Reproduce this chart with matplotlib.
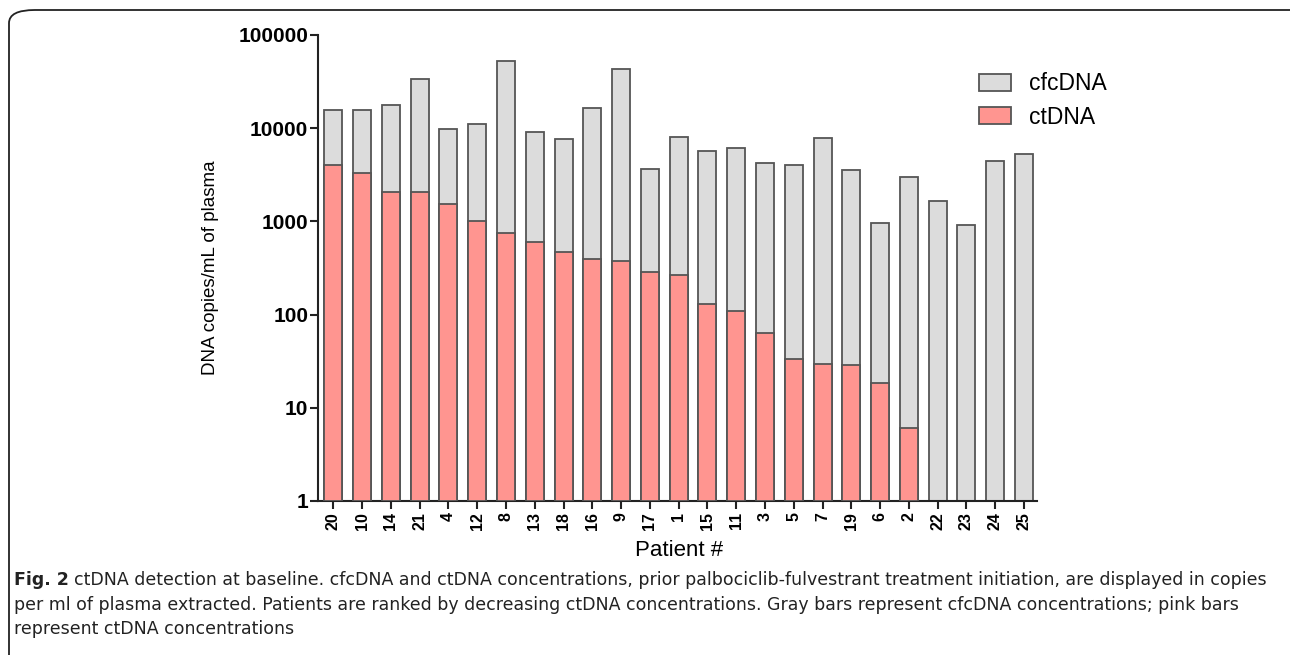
import matplotlib
matplotlib.use('Agg')
import matplotlib.pyplot as plt
import numpy as np
from matplotlib.patches import FancyBboxPatch, Patch

# Data (copies/mL of plasma), patients ranked by decreasing ctDNA
patients = ['20', '10', '14', '21', '4', '12', '8', '13', '18', '16', '9', '17', '1',
            '15', '11', '3', '5', '7', '19', '6', '2', '22', '23', '24', '25']
cfcdna = [15600, 15600, 17800, 33800, 9760, 11100, 53000, 9200, 7620, 16600, 43200, 3630, 8070,
          5710, 6110, 4220, 4010, 7940, 3520, 950, 2960, 1640, 920, 4430, 5340]
ctdna = [3980, 3340, 2060, 2060, 1545, 1000, 750, 600, 469, 397, 375, 286, 268,
         130, 110, 64, 33.5, 29.5, 29, 18.5, 6.1, 0, 0, 0, 0]
y_ticks = [1, 10, 100, 1000, 10000, 100000]

gray = '#dcdcdc'
pink = '#ff9590'
edge = '#555555'

plt.rcParams['font.family'] = ['Liberation Sans', 'DejaVu Sans']

fig = plt.figure(figsize=(12.9, 6.55), dpi=100)
ax = fig.add_axes([318 / 1290, 1 - 501 / 655, (1037 - 318) / 1290, (501 - 35) / 655])

x = np.arange(len(patients))
ct = np.array(ctdna, dtype=float)
has_ct = ct > 0

ax.bar(x, cfcdna, width=0.625, bottom=1, color=gray, edgecolor=edge, linewidth=1.3,
       label='cfcDNA', zorder=2)
ax.bar(x[has_ct], ct[has_ct] - 1, width=0.625, bottom=1, color=pink, edgecolor=edge,
       linewidth=1.3, label='ctDNA', zorder=3)

ax.set_yscale('log')
ax.set_ylim(1, 100000)
ax.set_xlim(-0.53, 24.45)
ax.set_yticks(y_ticks)
ax.set_yticklabels([str(t) for t in y_ticks], fontsize=15, fontweight='bold')
ax.yaxis.set_minor_locator(matplotlib.ticker.NullLocator())
ax.set_xticks(x)
ax.set_xticklabels(patients, rotation=90, fontsize=11.5, fontweight='bold')

for side in ['top', 'right']:
    ax.spines[side].set_visible(False)
for side in ['left', 'bottom']:
    ax.spines[side].set_linewidth(1.5)
    ax.spines[side].set_color('#222222')
ax.tick_params(axis='both', width=1.5, length=6, color='#222222')
ax.tick_params(axis='y', pad=1)
ax.tick_params(axis='x', pad=2)

ax.set_ylabel('DNA copies/mL of plasma', fontsize=13.5, labelpad=14)
fig.text(679 / 1290, 1 - 551 / 655, 'Patient #', fontsize=16, ha='center', va='center')

handles = [Patch(facecolor=gray, edgecolor=edge, linewidth=1.3),
           Patch(facecolor=pink, edgecolor=edge, linewidth=1.3)]
fig.legend(handles, ['cfcDNA', 'ctDNA'], loc='upper left',
           bbox_to_anchor=(961 / 1290, 1 - 54 / 655), frameon=False, fontsize=16.5,
           handlelength=1.4, handleheight=0.75, handletextpad=0.75, labelspacing=0.45,
           borderpad=0.3)

# outer frame
frame = FancyBboxPatch((9 / 1290, -0.05), 1.2, 1 - 10 / 655 + 0.05,
                       boxstyle='round,pad=0,rounding_size=0.02',
                       transform=fig.transFigure, fill=False, edgecolor='#222222',
                       linewidth=1.3, clip_on=False)
fig.patches.append(frame)

# caption
cap_font = ['DejaVu Sans']
fig.canvas.draw()
r = fig.canvas.get_renderer()
t_bold = fig.text(14 / 1290, 1 - 580 / 655, 'Fig. 2', fontsize=12.5, fontweight='bold',
                  family=cap_font, va='center', color='#222222')
bb = t_bold.get_window_extent(renderer=r)
fig.text(bb.x1 / 1290 + 5 / 1290, 1 - 580 / 655,
         'ctDNA detection at baseline. cfcDNA and ctDNA concentrations, prior palbociclib-fulvestrant '
         'treatment initiation, are displayed in copies',
         fontsize=12.5, family=cap_font, va='center', color='#222222')
fig.text(14 / 1290, 1 - 605 / 655,
         'per ml of plasma extracted. Patients are ranked by decreasing ctDNA concentrations. '
         'Gray bars represent cfcDNA concentrations; pink bars',
         fontsize=12.5, family=cap_font, va='center', color='#222222')
fig.text(14 / 1290, 1 - 629 / 655, 'represent ctDNA concentrations',
         fontsize=12.5, family=cap_font, va='center', color='#222222')

fig.savefig('out.png', dpi=100)
